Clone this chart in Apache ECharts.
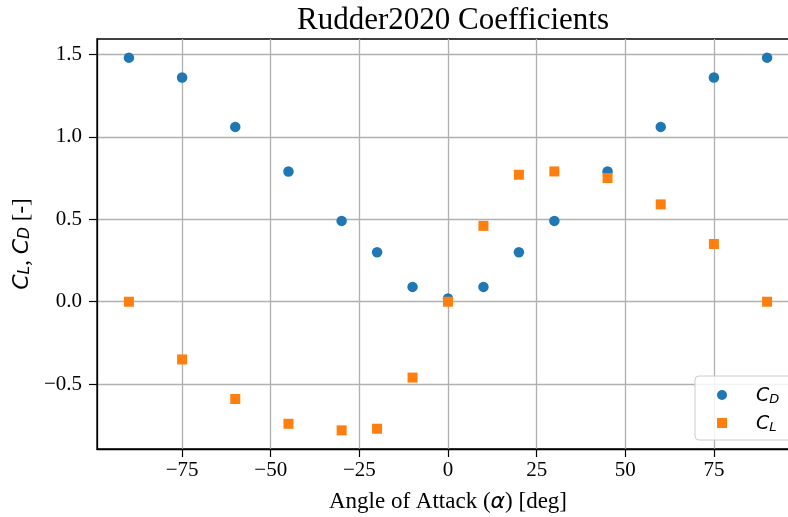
<!DOCTYPE html>
<html><head><meta charset="utf-8">
<script src="https://cdn.jsdelivr.net/npm/echarts@6/dist/echarts.min.js"></script>
<style>html,body{margin:0;padding:0;background:#fff}#c{width:788px;height:517px}</style>
</head><body><div id="c"></div>
<script>
const alpha = [-90,-75,-60,-45,-30,-20,-10,0,10,20,30,45,60,75,90];
const cd = [1.48,1.36,1.06,0.79,0.49,0.30,0.09,0.02,0.09,0.30,0.49,0.79,1.06,1.36,1.48];
const cl = [0.00,-0.35,-0.59,-0.74,-0.78,-0.77,-0.46,0.00,0.46,0.77,0.79,0.75,0.59,0.35,0.00];
const xTicks = [-75,-50,-25,0,25,50,75];
const yTicks = [-0.5,0.0,0.5,1.0,1.5];

const serif = 'Liberation Serif';
const math = 'DejaVu Sans';
const xLo = Math.min(...alpha), xHi = Math.max(...alpha);
const xPad = (xHi - xLo) * 0.05;
const all = cd.concat(cl);
const yLo = Math.min(...all), yHi = Math.max(...all);
const yPad = (yHi - yLo) * 0.05;
const minus = v => (v < 0 ? '\u2212' : '') + Math.abs(v);

const rich = {
  t: {fontFamily: serif, fontSize: 23, color: '#000', lineHeight: 28, verticalAlign: 'bottom'},
  i: {fontFamily: math, fontStyle: 'italic', fontSize: 22, color: '#000', lineHeight: 28, verticalAlign: 'bottom'},
  s: {fontFamily: math, fontStyle: 'italic', fontSize: 15.5, color: '#000', lineHeight: 17, verticalAlign: 'bottom'}
};
const lrich = {
  i: {fontFamily: math, fontStyle: 'italic', fontSize: 19, color: '#000', lineHeight: 22, verticalAlign: 'bottom', padding: [0,0,0,24]},
  s: {fontFamily: math, fontStyle: 'italic', fontSize: 13, color: '#000', lineHeight: 14, verticalAlign: 'bottom'}
};

const chart = echarts.init(document.getElementById('c'), null, {renderer: 'canvas'});
chart.setOption({
  animation: false,
  backgroundColor: '#fff',
  title: {
    text: 'Rudder2020 Coefficients', left: 448, top: 0, textAlign: 'center',
    textStyle: {fontFamily: serif, fontSize: 31, fontWeight: 'normal', color: '#000'}
  },
  grid: {left: 97, top: 39, width: 702, height: 410, outerBoundsMode: 'none', containLabel: false,
         show: true, borderColor: '#000', borderWidth: 1.3, backgroundColor: 'transparent'},
  legend: {
    orient: 'vertical', left: 695, top: 376,
    padding: [11, 24, 6, 22], itemGap: 9, itemWidth: 10, itemHeight: 10,
    backgroundColor: 'rgba(255,255,255,0.85)', borderColor: '#cccccc', borderWidth: 1, borderRadius: 4,
    data: [{name: 'CD', icon: 'circle', itemStyle: {}}, {name: 'CL', icon: 'rect'}],
    formatter: n => n === 'CD' ? '{i|C}{s|D}' : '{i|C}{s|L}',
    textStyle: {rich: lrich}
  },
  xAxis: {
    type: 'value', min: xLo - xPad, max: xHi + xPad,
    name: '{t|Angle of Attack (}{i|\u03b1}{t|) [deg]}', nameLocation: 'middle', nameGap: 36,
    nameTextStyle: {rich: rich},
    axisLine: {show: true, onZero: false, lineStyle: {color: '#000', width: 1.3}},
    axisTick: {show: true, length: 8, inside: false, customValues: xTicks, lineStyle: {color: '#000', width: 1.2}},
    axisLabel: {customValues: xTicks, formatter: minus, fontFamily: serif, fontSize: 21, color: '#000', margin: 11},
    splitLine: {show: true, lineStyle: {color: '#b0b0b0', width: 1.3}}
  },
  yAxis: {
    type: 'value', min: yLo - yPad, max: yHi + yPad,
    name: '{i|C}{s|L}{t|, }{i|C}{s|D}{t| [-]}', nameLocation: 'middle', nameRotate: 90, nameGap: 62,
    nameTextStyle: {rich: rich},
    axisLine: {show: true, onZero: false, lineStyle: {color: '#000', width: 1.3}},
    axisTick: {show: true, length: 8, inside: false, customValues: yTicks, lineStyle: {color: '#000', width: 1.2}},
    axisLabel: {customValues: yTicks, formatter: v => (v < 0 ? '\u2212' : '') + Math.abs(v).toFixed(1), fontFamily: serif, fontSize: 21, color: '#000', margin: 15},
    splitLine: {show: true, lineStyle: {color: '#b0b0b0', width: 1.3}}
  },
  series: [
    {name: 'CD', type: 'scatter', symbol: 'circle', symbolSize: 10.5, itemStyle: {color: '#1f77b4', opacity: 1},
     data: alpha.map((a, k) => [a, cd[k]])},
    {name: 'CL', type: 'scatter', symbol: 'rect', symbolSize: 10, itemStyle: {color: '#ff7f0e', opacity: 1},
     data: alpha.map((a, k) => [a, cl[k]])}
  ]
});
</script></body></html>
